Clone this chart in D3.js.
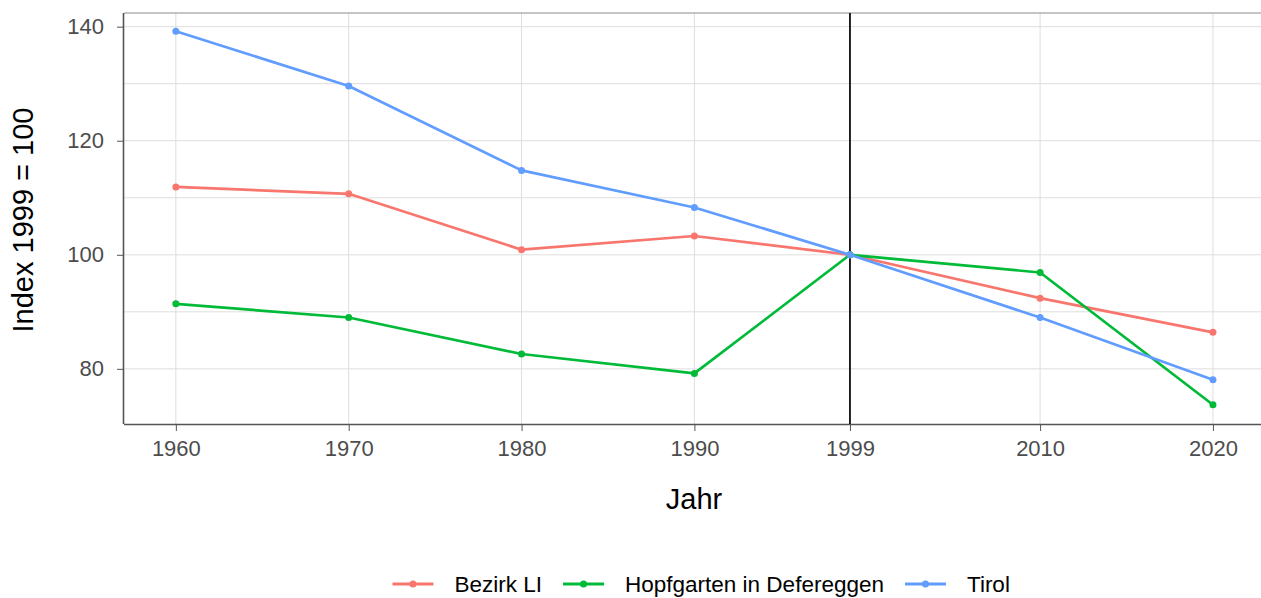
<!DOCTYPE html>
<html><head><meta charset="utf-8">
<script src="https://cdn.jsdelivr.net/npm/d3@7"></script>
<style>body{margin:0;background:#fff;} svg{display:block;font-family:"Liberation Sans",Arial,sans-serif;}</style>
</head><body>
<svg id="c" width="1261" height="598"></svg>
<script>
const years = [1960,1970,1980,1990,1999,2010,2020];
const seriesNames = ["Bezirk LI","Hopfgarten in Defereggen","Tirol"];
const bezirkLI = [111.9,110.7,100.9,103.3,100,92.4,86.4];
const hopfgarten = [91.4,89.0,82.6,79.2,100,96.9,73.7];
const tirol = [139.2,129.6,114.8,108.3,100,89.0,78.1];
const colors = ["#F8766D","#00BA38","#619CFF"];
const yTicks = [80,100,120,140];
const yMinor = [90,110,130];
const refYear = 1999;

const svg = d3.select("#c");
const L = 124, R = 1261, T = 13, B = 424;
const x = d3.scaleLinear().domain([1957, 2023]).range([124, 1264.8]);
const y = d3.scaleLinear().domain([70.33, 142.4]).range([B, T]);
const FONT = "Liberation Sans, Arial, sans-serif";

// grid
const g = svg.append("g");
g.selectAll(".gy").data(yTicks.concat(yMinor)).join("line")
  .attr("x1", L).attr("x2", R).attr("y1", d => y(d)).attr("y2", d => y(d))
  .attr("stroke", "#dedede").attr("stroke-width", 1);
g.selectAll(".gx").data(years).join("line")
  .attr("x1", d => x(d)).attr("x2", d => x(d)).attr("y1", T).attr("y2", B)
  .attr("stroke", "#dedede").attr("stroke-width", 1);

// top border
svg.append("line").attr("x1", L).attr("x2", R).attr("y1", T).attr("y2", T)
  .attr("stroke", "#8c8c8c").attr("stroke-width", 1.2);

// axes
const ax = svg.append("g").attr("transform", `translate(0,${B})`)
  .call(d3.axisBottom(x).tickValues(years).tickFormat(d3.format("d")).tickSize(7).tickPadding(9));
ax.select(".domain").attr("d", `M${L},0.5H${R}`).attr("stroke", "#555").attr("stroke-width", 1.6);
ax.selectAll(".tick line").attr("stroke", "#555");
ax.selectAll(".tick text").attr("fill", "#4d4d4d").style("font-size", "22px").attr("font-family", FONT);

const ay = svg.append("g").attr("transform", `translate(${L},0)`)
  .call(d3.axisLeft(y).tickValues(yTicks).tickSize(7).tickPadding(13));
ay.select(".domain").attr("d", `M-0.5,${T}V${B}`).attr("stroke", "#555").attr("stroke-width", 1.6);
ay.selectAll(".tick line").attr("stroke", "#555");
ay.selectAll(".tick text").attr("fill", "#4d4d4d").style("font-size", "22px").attr("font-family", FONT);

// vertical reference line
svg.append("line").attr("x1", x(refYear)).attr("x2", x(refYear)).attr("y1", T).attr("y2", B)
  .attr("stroke", "#000").attr("stroke-width", 1.7);

// series
const data = [bezirkLI, hopfgarten, tirol];
const line = d3.line().x((d, i) => x(years[i])).y(d => y(d));
data.forEach((vals, k) => {
  svg.append("path").datum(vals).attr("d", line).attr("fill", "none")
    .attr("stroke", colors[k]).attr("stroke-width", 2.7).attr("stroke-linejoin", "round");
  svg.selectAll(null).data(vals).join("circle")
    .attr("cx", (d, i) => x(years[i])).attr("cy", d => y(d)).attr("r", 3.5).attr("fill", colors[k]);
});

// axis titles
svg.append("text").attr("x", 694).attr("y", 509).attr("text-anchor", "middle")
  .style("font-size", "29px").attr("fill", "#000").text("Jahr");
svg.append("text").attr("transform", `translate(33,220) rotate(-90)`).attr("text-anchor", "middle")
  .style("font-size", "29px").attr("fill", "#000").text("Index 1999 = 100");

// legend (laid out sequentially)
const lg = svg.append("g");
let cx = 392.5;
seriesNames.forEach((n, k) => {
  const gg = lg.append("g").attr("transform", `translate(${cx},584)`);
  gg.append("line").attr("x1", 0).attr("x2", 41).attr("y1", 0).attr("y2", 0)
    .attr("stroke", colors[k]).attr("stroke-width", 2.8);
  gg.append("circle").attr("cx", 20.5).attr("cy", 0).attr("r", 3.5).attr("fill", colors[k]);
  const t = gg.append("text").attr("x", 62).attr("y", 8).style("font-size", "22.5px").attr("fill", "#000").text(n);
  cx += 62 + t.node().getComputedTextLength() + 21;
});
</script>
</body></html>
